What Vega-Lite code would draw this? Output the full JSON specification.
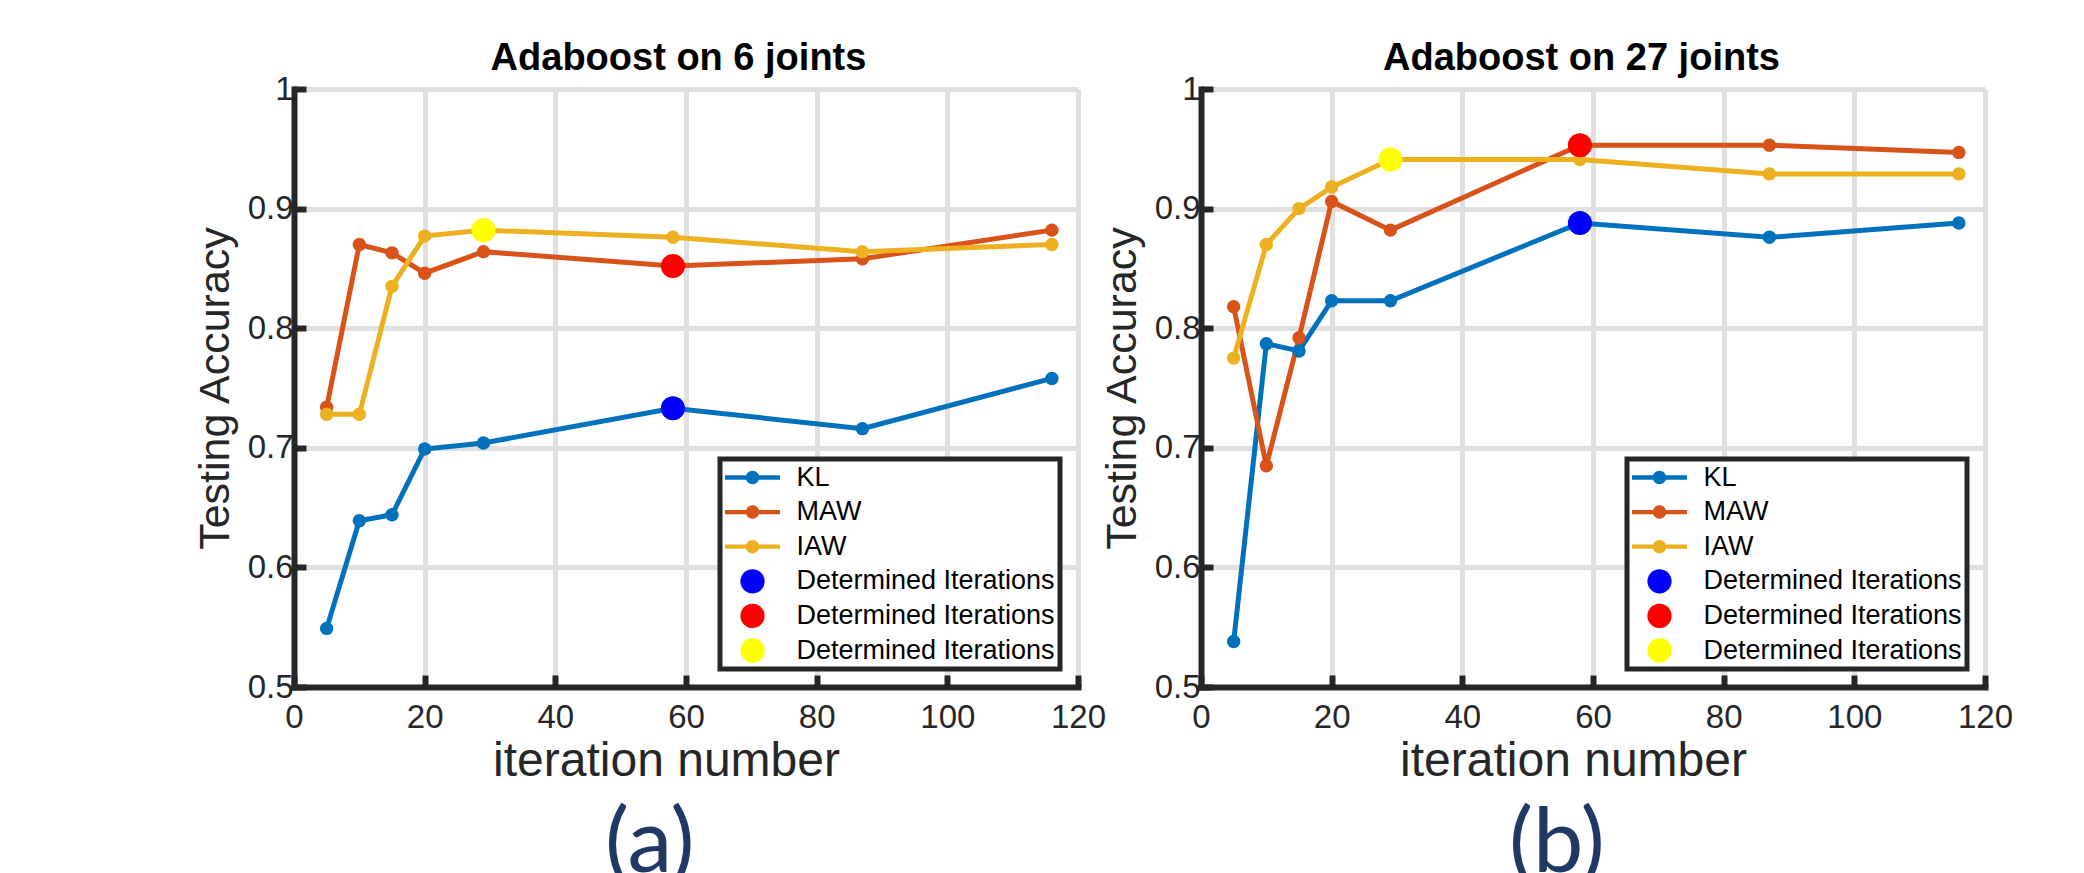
{
  "$schema": "https://vega.github.io/schema/vega-lite/v6.json",
  "background": "white",
  "padding": {"left": 194, "top": 39, "right": 0, "bottom": 0},
  "autosize": {"type": "pad"},
  "spacing": -5,
  "config": {
    "view": {"stroke": null},
    "font": "Liberation Sans",
    "axis": {
      "domainColor": "#262626", "domainWidth": 6, "domainCap": "square",
      "tickColor": "#262626", "tickWidth": 6, "tickSize": -12,
      "labelColor": "#262626", "labelFont": "Liberation Sans", "labelFontSize": 33,
      "titleFont": "Liberation Sans", "titleFontWeight": "normal", "titleColor": "#262626",
      "gridColor": "#E0E0E0", "gridWidth": 5, "gridOpacity": 1,
      "labelFlush": false, "labelOverlap": false
    },
    "axisX": {"labelPadding": 26, "titlePadding": 3, "titleFontSize": 48},
    "axisY": {"labelPadding": 13, "titlePadding": 10, "titleFontSize": 43},
    "legend": {
      "orient": "bottom-right", "offset": 18, "padding": 5,
      "strokeColor": "#262626", "fillColor": "white", "cornerRadius": 0,
      "labelFont": "Liberation Sans", "labelFontSize": 27, "labelColor": "black", "labelLimit": 600,
      "rowPadding": 6.6, "symbolSize": 729, "symbolOffset": 14, "labelOffset": 30.5, "symbolStrokeWidth": 0
    }
  },
  "resolve": {"scale": {"color": "independent"}, "legend": {"color": "independent"}},
  "hconcat": [
    {
      "width": 784, "height": 598,
      "title": {"text": "(a)", "orient": "bottom", "baseline": "alphabetic", "offset": 87, "fontSize": 90, "font": "Lato", "color": "#1F3864", "fontWeight": "normal", "anchor": "middle", "frame": "bounds"},
      "data": {"values": [
        {"iter": 5, "acc": 0.549, "series": "KL", "kind": "line"},
        {"iter": 10, "acc": 0.639, "series": "KL", "kind": "line"},
        {"iter": 15, "acc": 0.644, "series": "KL", "kind": "line"},
        {"iter": 20, "acc": 0.699, "series": "KL", "kind": "line"},
        {"iter": 29, "acc": 0.704, "series": "KL", "kind": "line"},
        {"iter": 58, "acc": 0.733, "series": "KL", "kind": "line"},
        {"iter": 87, "acc": 0.716, "series": "KL", "kind": "line"},
        {"iter": 116, "acc": 0.758, "series": "KL", "kind": "line"},
        {"iter": 5, "acc": 0.734, "series": "MAW", "kind": "line"},
        {"iter": 10, "acc": 0.870, "series": "MAW", "kind": "line"},
        {"iter": 15, "acc": 0.863, "series": "MAW", "kind": "line"},
        {"iter": 20, "acc": 0.846, "series": "MAW", "kind": "line"},
        {"iter": 29, "acc": 0.864, "series": "MAW", "kind": "line"},
        {"iter": 58, "acc": 0.852, "series": "MAW", "kind": "line"},
        {"iter": 87, "acc": 0.858, "series": "MAW", "kind": "line"},
        {"iter": 116, "acc": 0.882, "series": "MAW", "kind": "line"},
        {"iter": 5, "acc": 0.728, "series": "IAW", "kind": "line"},
        {"iter": 10, "acc": 0.728, "series": "IAW", "kind": "line"},
        {"iter": 15, "acc": 0.835, "series": "IAW", "kind": "line"},
        {"iter": 20, "acc": 0.877, "series": "IAW", "kind": "line"},
        {"iter": 29, "acc": 0.882, "series": "IAW", "kind": "line"},
        {"iter": 58, "acc": 0.876, "series": "IAW", "kind": "line"},
        {"iter": 87, "acc": 0.864, "series": "IAW", "kind": "line"},
        {"iter": 116, "acc": 0.870, "series": "IAW", "kind": "line"},
        {"iter": 58, "acc": 0.733, "series": "Det-KL", "kind": "det"},
        {"iter": 58, "acc": 0.852, "series": "Det-MAW", "kind": "det"},
        {"iter": 29, "acc": 0.882, "series": "Det-IAW", "kind": "det"}
      ]},
      "resolve": {"axis": {"x": "independent"}},
      "layer": [
        {
          "transform": [{"filter": "datum.kind == 'line'"}],
          "mark": {"type": "line", "strokeWidth": 5},
          "encoding": {
            "x": {"field": "iter", "type": "quantitative", "scale": {"domain": [0, 120], "nice": false, "zero": false},
                  "axis": {"title": "iteration number", "titleX": 372, "titleAlign": "center", "values": [0, 20, 40, 60, 80, 100, 120], "format": "d"}},
            "y": {"field": "acc", "type": "quantitative", "scale": {"domain": [0.5, 1], "nice": false, "zero": false},
                  "axis": {"title": "Testing Accuracy", "values": [0.5, 0.6, 0.7, 0.8, 0.9, 1], "format": "~g"}},
            "color": {"field": "series", "type": "nominal",
              "scale": {"domain": ["KL", "MAW", "IAW", "Det-KL", "Det-MAW", "Det-IAW"], "range": ["#0072BD", "#D95319", "#EDB120", "#0000FF", "#FF0000", "#FFFF00"]},
              "legend": {"title": null,
                "labelExpr": "datum.label == 'KL' || datum.label == 'MAW' || datum.label == 'IAW' ? datum.label : 'Determined Iterations'",
                "encode": {
                  "legend": {"update": {"stroke": {"value": "#262626"}, "strokeWidth": {"value": 5}, "fill": {"value": "white"}}},
                  "symbols": {"update": {
                    "shape": {"signal": "datum.value == 'KL' || datum.value == 'MAW' || datum.value == 'IAW' ? 'M-2.04,-0.16L2.04,-0.16L2.04,0.16L-2.04,0.16Z M0.5,0A0.5,0.5,0,1,1,-0.5,0A0.5,0.5,0,1,1,0.5,0Z' : 'M0.9,0A0.9,0.9,0,1,1,-0.9,0A0.9,0.9,0,1,1,0.9,0Z'"},
                    "fill": {"signal": "datum.value == 'KL' ? '#0072BD' : datum.value == 'MAW' ? '#D95319' : datum.value == 'IAW' ? '#EDB120' : datum.value == 'Det-KL' ? '#0000FF' : datum.value == 'Det-MAW' ? '#FF0000' : '#FFFF00'"},
                    "stroke": {"value": "transparent"}, "strokeWidth": {"value": 0}, "size": {"value": 729}, "opacity": {"value": 1}
                  }}
                }}
            }
          }
        },
        {
          "transform": [{"filter": "datum.kind == 'line'"}],
          "mark": {"type": "point", "filled": true, "size": 180, "opacity": 1},
          "encoding": {
            "x": {"field": "iter", "type": "quantitative", "scale": {"domain": [0, 120], "nice": false, "zero": false},
                  "axis": {"orient": "top", "title": "Adaboost on 6 joints", "titleX": 384, "titleAlign": "center", "labels": false, "ticks": false, "domain": false, "grid": false,
                           "titleFontWeight": "bold", "titleFontSize": 38, "titleColor": "black", "titlePadding": 20, "titleBaseline": "alphabetic"}},
            "y": {"field": "acc", "type": "quantitative"},
            "color": {"field": "series", "type": "nominal"}
          }
        },
        {
          "transform": [{"filter": "datum.kind == 'det'"}],
          "mark": {"type": "point", "filled": true, "size": 580, "opacity": 1},
          "encoding": {
            "x": {"field": "iter", "type": "quantitative", "axis": null},
            "y": {"field": "acc", "type": "quantitative"},
            "color": {"field": "series", "type": "nominal"}
          }
        }
      ]
    },
    {
      "width": 784, "height": 598,
      "title": {"text": "(b)", "orient": "bottom", "baseline": "alphabetic", "offset": 87, "fontSize": 90, "font": "Lato", "color": "#1F3864", "fontWeight": "normal", "anchor": "middle", "frame": "bounds"},
      "data": {"values": [
        {"iter": 5, "acc": 0.538, "series": "KL", "kind": "line"},
        {"iter": 10, "acc": 0.787, "series": "KL", "kind": "line"},
        {"iter": 15, "acc": 0.781, "series": "KL", "kind": "line"},
        {"iter": 20, "acc": 0.823, "series": "KL", "kind": "line"},
        {"iter": 29, "acc": 0.823, "series": "KL", "kind": "line"},
        {"iter": 58, "acc": 0.888, "series": "KL", "kind": "line"},
        {"iter": 87, "acc": 0.876, "series": "KL", "kind": "line"},
        {"iter": 116, "acc": 0.888, "series": "KL", "kind": "line"},
        {"iter": 5, "acc": 0.818, "series": "MAW", "kind": "line"},
        {"iter": 10, "acc": 0.685, "series": "MAW", "kind": "line"},
        {"iter": 15, "acc": 0.792, "series": "MAW", "kind": "line"},
        {"iter": 20, "acc": 0.906, "series": "MAW", "kind": "line"},
        {"iter": 29, "acc": 0.882, "series": "MAW", "kind": "line"},
        {"iter": 58, "acc": 0.953, "series": "MAW", "kind": "line"},
        {"iter": 87, "acc": 0.953, "series": "MAW", "kind": "line"},
        {"iter": 116, "acc": 0.947, "series": "MAW", "kind": "line"},
        {"iter": 5, "acc": 0.775, "series": "IAW", "kind": "line"},
        {"iter": 10, "acc": 0.870, "series": "IAW", "kind": "line"},
        {"iter": 15, "acc": 0.900, "series": "IAW", "kind": "line"},
        {"iter": 20, "acc": 0.918, "series": "IAW", "kind": "line"},
        {"iter": 29, "acc": 0.941, "series": "IAW", "kind": "line"},
        {"iter": 58, "acc": 0.941, "series": "IAW", "kind": "line"},
        {"iter": 87, "acc": 0.929, "series": "IAW", "kind": "line"},
        {"iter": 116, "acc": 0.929, "series": "IAW", "kind": "line"},
        {"iter": 58, "acc": 0.888, "series": "Det-KL", "kind": "det"},
        {"iter": 58, "acc": 0.953, "series": "Det-MAW", "kind": "det"},
        {"iter": 29, "acc": 0.941, "series": "Det-IAW", "kind": "det"}
      ]},
      "resolve": {"axis": {"x": "independent"}},
      "layer": [
        {
          "transform": [{"filter": "datum.kind == 'line'"}],
          "mark": {"type": "line", "strokeWidth": 5},
          "encoding": {
            "x": {"field": "iter", "type": "quantitative", "scale": {"domain": [0, 120], "nice": false, "zero": false},
                  "axis": {"title": "iteration number", "titleX": 372, "titleAlign": "center", "values": [0, 20, 40, 60, 80, 100, 120], "format": "d"}},
            "y": {"field": "acc", "type": "quantitative", "scale": {"domain": [0.5, 1], "nice": false, "zero": false},
                  "axis": {"title": "Testing Accuracy", "values": [0.5, 0.6, 0.7, 0.8, 0.9, 1], "format": "~g"}},
            "color": {"field": "series", "type": "nominal",
              "scale": {"domain": ["KL", "MAW", "IAW", "Det-KL", "Det-MAW", "Det-IAW"], "range": ["#0072BD", "#D95319", "#EDB120", "#0000FF", "#FF0000", "#FFFF00"]},
              "legend": {"title": null,
                "labelExpr": "datum.label == 'KL' || datum.label == 'MAW' || datum.label == 'IAW' ? datum.label : 'Determined Iterations'",
                "encode": {
                  "legend": {"update": {"stroke": {"value": "#262626"}, "strokeWidth": {"value": 5}, "fill": {"value": "white"}}},
                  "symbols": {"update": {
                    "shape": {"signal": "datum.value == 'KL' || datum.value == 'MAW' || datum.value == 'IAW' ? 'M-2.04,-0.16L2.04,-0.16L2.04,0.16L-2.04,0.16Z M0.5,0A0.5,0.5,0,1,1,-0.5,0A0.5,0.5,0,1,1,0.5,0Z' : 'M0.9,0A0.9,0.9,0,1,1,-0.9,0A0.9,0.9,0,1,1,0.9,0Z'"},
                    "fill": {"signal": "datum.value == 'KL' ? '#0072BD' : datum.value == 'MAW' ? '#D95319' : datum.value == 'IAW' ? '#EDB120' : datum.value == 'Det-KL' ? '#0000FF' : datum.value == 'Det-MAW' ? '#FF0000' : '#FFFF00'"},
                    "stroke": {"value": "transparent"}, "strokeWidth": {"value": 0}, "size": {"value": 729}, "opacity": {"value": 1}
                  }}
                }}
            }
          }
        },
        {
          "transform": [{"filter": "datum.kind == 'line'"}],
          "mark": {"type": "point", "filled": true, "size": 180, "opacity": 1},
          "encoding": {
            "x": {"field": "iter", "type": "quantitative", "scale": {"domain": [0, 120], "nice": false, "zero": false},
                  "axis": {"orient": "top", "title": "Adaboost on 27 joints", "titleX": 380, "titleAlign": "center", "labels": false, "ticks": false, "domain": false, "grid": false,
                           "titleFontWeight": "bold", "titleFontSize": 38, "titleColor": "black", "titlePadding": 20, "titleBaseline": "alphabetic"}},
            "y": {"field": "acc", "type": "quantitative"},
            "color": {"field": "series", "type": "nominal"}
          }
        },
        {
          "transform": [{"filter": "datum.kind == 'det'"}],
          "mark": {"type": "point", "filled": true, "size": 580, "opacity": 1},
          "encoding": {
            "x": {"field": "iter", "type": "quantitative", "axis": null},
            "y": {"field": "acc", "type": "quantitative"},
            "color": {"field": "series", "type": "nominal"}
          }
        }
      ]
    }
  ]
}
